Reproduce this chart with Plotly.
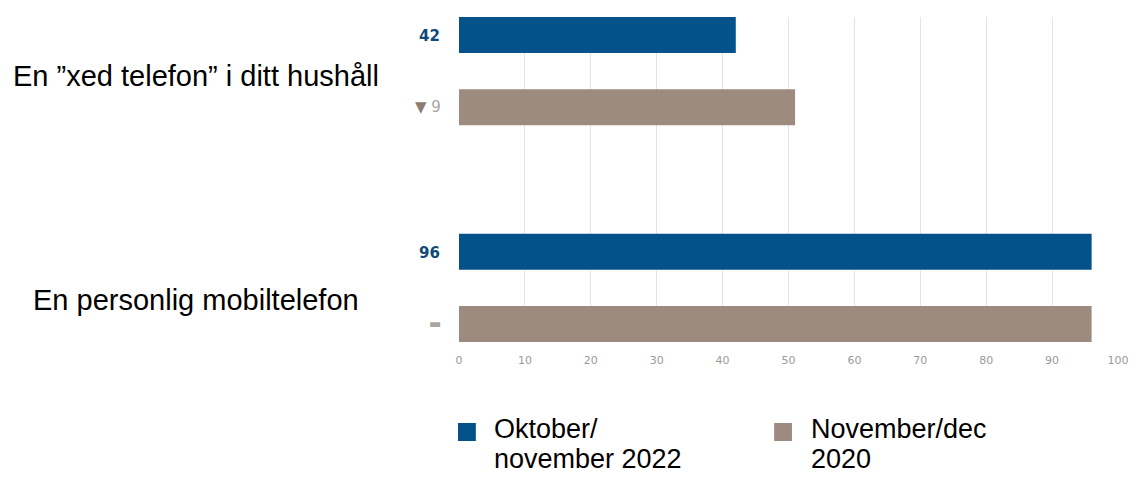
import plotly.graph_objects as go

categories = ["En \u201dxed telefon\u201d i ditt hushåll", "En personlig mobiltelefon"]
series_lines = [["Oktober/", "november 2022"], ["November/dec", "2020"]]
values_2022 = [42, 96]
values_2020 = [51, 96]
labels_2022 = ["42", "96"]
labels_2020 = ["\u25bc 9", "\u25ac"]
x_ticks = [0, 10, 20, 30, 40, 50, 60, 70, 80, 90, 100]

BLUE = "#04528a"
BROWN = "#9e8b7f"
colors = [BLUE, BROWN]

# figure geometry (page has an 8px body margin)
W, H = 1130, 469
L, R, T, B = 451, 14, 9, 135
pw = W - L - R
ph = H - T - B
plot_bottom = H - B

def px_x(fx):
    return (fx - L) / pw

def px_y(fy):
    return (plot_bottom - fy) / ph

fig = go.Figure()
fig.add_trace(go.Bar(y=categories, x=values_2022, orientation="h", name=" ".join(series_lines[0]),
                     marker=dict(color=BLUE, line=dict(width=0)), hoverinfo="x"))
fig.add_trace(go.Bar(y=categories, x=values_2020, orientation="h", name=" ".join(series_lines[1]),
                     marker=dict(color=BROWN, line=dict(width=0)), hoverinfo="x"))

cat_shift = [-5, -12]
annotations = []
for i, cat in enumerate(categories):
    annotations.append(dict(text=cat, xref="paper", yref="y", x=px_x(186), y=i,
                            yshift=cat_shift[i], xanchor="center", yanchor="middle", showarrow=False,
                            font=dict(family="Arial, Liberation Sans, sans-serif", size=29, color="#000")))
    annotations.append(dict(text="<b>%s</b>" % labels_2022[i], xref="paper", yref="y",
                            x=px_x(434), y=i, yshift=35, xanchor="right", yanchor="middle",
                            showarrow=False,
                            font=dict(family="DejaVu Sans, Verdana, sans-serif", size=15, color="#11497a")))
    lbl = labels_2020[i]
    if lbl.startswith("\u25bc"):
        txt = "<span style='color:#8b7d72'>\u25bc</span> " + lbl[2:]
        fsize = 15
    else:
        txt = lbl
        fsize = 13
    annotations.append(dict(text=txt, xref="paper", yref="y",
                            x=px_x(435), y=i, yshift=-36, xanchor="right", yanchor="middle",
                            showarrow=False,
                            font=dict(family="DejaVu Sans, Verdana, sans-serif", size=fsize, color="#aaa5a0")))

# manual legend (two-line labels with tight line spacing)
legend_sq_x = [450, 769]
legend_txt_x = [484, 804]
line_y = [421, 451]
shapes = []
for k, lines in enumerate(series_lines):
    shapes.append(dict(type="rect", xref="paper", yref="paper",
                       x0=px_x(legend_sq_x[k]), x1=px_x(legend_sq_x[k] + 18),
                       y0=px_y(415), y1=px_y(433), fillcolor=colors[k], line=dict(width=0)))
    for j, line in enumerate(lines):
        annotations.append(dict(text=line, xref="paper", yref="paper", x=px_x(legend_txt_x[k]),
                                y=px_y(line_y[j]), xanchor="left", yanchor="middle", showarrow=False,
                                font=dict(family="Arial, Liberation Sans, sans-serif", size=27, color="#000")))

fig.update_layout(
    width=W, height=H,
    margin=dict(l=L, r=R, t=T, b=B, pad=0),
    paper_bgcolor="white", plot_bgcolor="white",
    barmode="group", bargap=1/3, bargroupgap=0.5,
    xaxis=dict(range=[0, 100], tickvals=x_ticks, showgrid=True, gridcolor="#e4e4e4", gridwidth=1,
               zeroline=False, showline=False, ticks="", ticklabelstandoff=10,
               tickfont=dict(family="DejaVu Sans, Verdana, sans-serif", size=11, color="#9a9a9a")),
    yaxis=dict(categoryorder="array", categoryarray=categories, range=[1.25, -0.25],
               showticklabels=False, showgrid=False, zeroline=False, showline=False, ticks=""),
    showlegend=False,
    shapes=shapes,
    annotations=annotations,
)

fig.write_html("out.html")
